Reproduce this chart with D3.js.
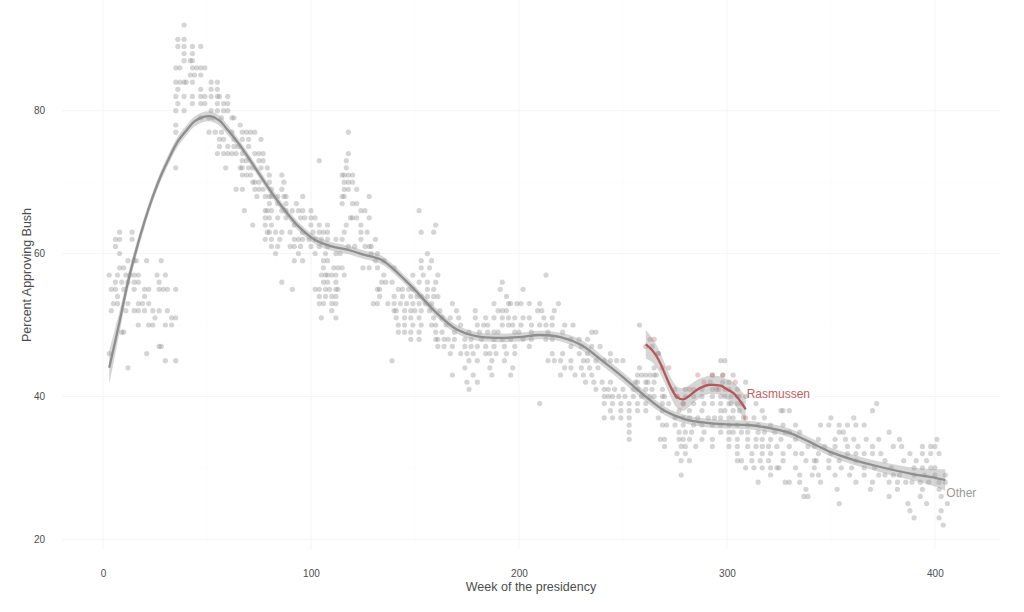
<!DOCTYPE html>
<html>
<head>
<meta charset="utf-8">
<script src="https://d3js.org/d3.v7.min.js"></script>
<style>
body { margin: 0; background: #fff; font-family: "Liberation Sans", Arial, Helvetica, sans-serif; }
.tick text { fill: #4d4d4d; font-size: 10px; }
</style>
</head>
<body>
<div id="chart"></div>
<script>

// poll results, one row per approval value: [percent, weeks that had a poll at that value...]
var otherPolls = [
  [92, 39],
  [90, 36, 39],
  [89, 36, 39, 43, 47],
  [88, 39, 43],
  [87, 39, 42, 43],
  [86, 35, 37, 43, 45, 47, 49],
  [85, 42, 44, 47],
  [84, 35, 37, 39, 40, 43, 52, 55],
  [83, 36, 47, 52, 55],
  [82, 35, 39, 43, 47, 49, 52, 55, 56, 60],
  [81, 36, 43, 47, 49, 55, 58, 60],
  [80, 35, 39, 52, 55, 58, 60],
  [79, 47, 51, 53, 57, 62, 63],
  [78, 35, 66],
  [77, 35, 51, 54, 57, 62, 67, 69, 71, 73, 118],
  [76, 56, 58, 63, 67, 70, 76],
  [75, 56, 60, 63, 65, 70],
  [74, 55, 58, 60, 62, 64, 67, 73, 75, 77, 118],
  [73, 67, 69, 75, 77, 104, 117],
  [72, 35, 59, 66, 67, 70, 72, 76, 79, 117],
  [71, 67, 69, 71, 80, 86, 115, 116, 118, 120],
  [70, 72, 73, 75, 80, 87, 116, 118, 120],
  [69, 64, 67, 73, 75, 77, 81, 86, 116, 118, 122],
  [68, 74, 78, 80, 81, 84, 87, 88, 96, 115, 116, 128],
  [67, 80, 84, 88, 93, 115, 120, 122],
  [66, 68, 78, 79, 81, 86, 88, 91, 94, 96, 100, 124, 126, 152],
  [65, 78, 80, 84, 88, 95, 97, 100, 102, 119, 120, 122, 128],
  [64, 72, 78, 81, 92, 100, 104, 108, 117, 124, 160],
  [63, 8, 14, 79, 80, 83, 86, 90, 96, 101, 104, 106, 108, 116, 124, 127, 153, 159],
  [62, 6, 8, 14, 78, 81, 85, 92, 94, 96, 99, 102, 105, 108, 112, 115, 124, 131],
  [61, 6, 81, 84, 90, 92, 95, 100, 104, 108, 118, 121, 126, 128, 129],
  [60, 8, 83, 94, 102, 107, 112, 114, 129, 132, 156],
  [59, 12, 15, 16, 21, 28, 92, 96, 106, 108, 131, 135, 153, 158],
  [58, 8, 10, 106, 111, 113, 115, 125, 128, 132, 140, 153, 157],
  [57, 3, 7, 11, 13, 15, 17, 26, 30, 105, 107, 108, 110, 112, 116, 135, 149, 154, 161, 213],
  [56, 6, 9, 12, 15, 17, 27, 86, 106, 108, 112, 134, 136, 139, 152, 156, 160, 192],
  [55, 4, 6, 10, 15, 20, 22, 27, 29, 31, 35, 91, 102, 104, 107, 109, 112, 113, 132, 133, 142, 144, 147, 149, 156, 159, 191, 202],
  [54, 7, 20, 104, 107, 110, 112, 133, 140, 144, 148, 151, 153, 156, 159, 161, 194],
  [53, 5, 7, 12, 17, 19, 22, 104, 106, 110, 112, 130, 132, 137, 140, 143, 146, 149, 152, 155, 158, 168, 188, 195, 196, 199, 201, 205, 210, 219],
  [52, 4, 11, 15, 17, 20, 24, 27, 31, 110, 140, 141, 145, 148, 150, 153, 157, 162, 170, 179, 190, 192, 194, 209, 211, 217],
  [51, 25, 33, 35, 105, 112, 141, 145, 148, 152, 159, 163, 167, 171, 179, 184, 188, 192, 195, 198, 202, 205, 212, 216],
  [50, 17, 22, 24, 30, 33, 142, 145, 149, 153, 158, 160, 165, 172, 180, 183, 185, 192, 195, 197, 201, 206, 210, 213, 216, 222, 226, 258],
  [49, 9, 10, 142, 145, 148, 152, 160, 163, 169, 176, 181, 185, 188, 190, 198, 200, 206, 214, 221, 235, 237],
  [48, 148, 152, 160, 161, 164, 166, 169, 174, 177, 182, 188, 192, 196, 202, 206, 213, 216, 225, 229, 233],
  [47, 27, 28, 161, 164, 168, 174, 177, 180, 184, 188, 193, 198, 205, 225, 230, 235, 239, 264],
  [46, 3, 21, 167, 172, 175, 178, 184, 186, 189, 194, 198, 216, 221, 229, 233, 244, 267],
  [45, 30, 35, 139, 176, 180, 187, 193, 214, 217, 220, 225, 231, 233, 237, 241, 244, 247, 250, 297, 299],
  [44, 12, 174, 186, 197, 222, 225, 230, 234, 238, 258, 265],
  [43, 168, 178, 187, 196, 220, 227, 231, 235, 257, 259, 261, 263, 265, 266, 293, 298, 303],
  [42, 175, 180, 232, 236, 240, 244, 256, 257, 261, 262, 265, 292, 298, 301, 309],
  [41, 176, 237, 241, 243, 246, 250, 255, 257, 261, 264, 269, 275, 280, 284, 288, 293, 295, 299, 305],
  [40, 241, 243, 245, 248, 251, 255, 259, 263, 265, 269, 270, 276, 280, 284, 288, 293, 297, 299, 302, 305, 309],
  [39, 210, 241, 245, 249, 253, 257, 261, 269, 272, 279, 284, 289, 293, 297, 301, 302, 305, 307, 314, 372],
  [38, 244, 249, 253, 257, 261, 269, 277, 282, 288, 297, 299, 303, 306, 317, 326, 327, 330, 370],
  [37, 241, 245, 249, 253, 267, 275, 279, 282, 286, 291, 294, 297, 301, 303, 308, 313, 318, 350, 361],
  [36, 253, 269, 271, 275, 279, 284, 288, 293, 297, 301, 305, 310, 315, 321, 327, 333, 345, 349, 354, 358, 362, 366],
  [35, 253, 277, 280, 283, 289, 297, 301, 303, 307, 310, 315, 318, 323, 328, 330, 335, 354, 356, 378],
  [34, 253, 268, 270, 277, 279, 282, 288, 293, 301, 305, 310, 314, 317, 321, 326, 333, 344, 352, 357, 361, 367, 373, 383, 401],
  [33, 270, 278, 280, 285, 293, 301, 305, 310, 314, 317, 320, 324, 330, 339, 342, 347, 352, 358, 363, 370, 380, 384, 394, 398, 400],
  [32, 276, 280, 305, 312, 317, 321, 327, 333, 336, 344, 350, 358, 362, 366, 370, 374, 388, 394, 398, 402],
  [31, 278, 282, 305, 307, 312, 316, 320, 327, 338, 342, 343, 349, 354, 362, 376, 385, 391, 396],
  [30, 309, 313, 317, 321, 324, 325, 333, 342, 349, 355, 360, 366, 371, 379, 390, 394, 398, 400],
  [29, 278, 321, 335, 341, 344, 352, 359, 366, 373, 376, 380, 383, 390, 395, 400, 405],
  [28, 315, 328, 330, 335, 345, 362, 370, 378, 382, 386, 389, 393, 397, 402, 405],
  [27, 338, 353, 369, 382, 394, 402],
  [26, 337, 339, 378, 393, 403],
  [25, 354, 387, 396, 406],
  [24, 388, 403],
  [23, 390, 402],
  [22, 404]
];

var rasWeeks = [261, 263, 265, 267, 269, 272, 276, 279, 282, 286, 289, 293, 296, 298, 301, 304, 306, 309];
var rasPcts  = [47,  48,  48,  46,  44,  44,  40,  39,  41,  43,  42,  43,  41,  43,  41,  42,  40,  37];

// loess fits
var otherFitWeeks = [3, 8, 12, 16, 20, 24, 28, 32, 36, 40,
  44, 48, 52, 56, 60, 65, 70, 75, 80, 86,
  94, 102, 110, 118, 126, 134, 142, 150, 160, 170,
  180, 190, 200, 210, 220, 230, 240, 250, 260, 270,
  280, 290, 300, 310, 320, 330, 340, 350, 360, 370,
  380, 390, 400, 405];
var otherFit = [44, 50.5, 56, 60.5, 64.5, 68, 71, 73.5, 75.7, 77.2,
  78.5, 79.1, 79.2, 78.6, 77.3, 75.5, 73.4, 71.2, 69, 66.6,
  63.8, 61.9, 61.0, 60.5, 59.8, 59.1, 57.2, 54.9, 51.8, 49.4,
  48.4, 48.2, 48.3, 48.6, 48.3, 47.2, 45.0, 42.7, 40.2, 38.0,
  36.8, 36.3, 36.1, 36.0, 35.6, 34.9, 33.6, 32.2, 31.2, 30.4,
  29.7, 29.1, 28.6, 28.3];
var otherSe = [2.4, 1.5, 1.1, 0.9, 0.8, 0.7, 0.7, 0.7, 0.7, 0.7,
  0.7, 0.7, 0.7, 0.7, 0.7, 0.6, 0.6, 0.6, 0.6, 0.6,
  0.6, 0.6, 0.6, 0.6, 0.6, 0.6, 0.6, 0.6, 0.6, 0.6,
  0.6, 0.6, 0.6, 0.6, 0.6, 0.7, 0.7, 0.7, 0.7, 0.6,
  0.6, 0.6, 0.6, 0.6, 0.6, 0.6, 0.6, 0.6, 0.7, 0.7,
  0.8, 0.9, 1.2, 1.5];

var rasFitWeeks = [261, 264, 267, 270, 273, 276, 279, 282, 285, 288, 291, 294, 297, 300, 303, 306, 309];
var rasFit = [47.3, 46.5, 45.2, 43.3, 41.3, 39.9, 39.6, 40.1, 40.8, 41.3, 41.6, 41.6, 41.5, 41.0, 40.5, 39.5, 38.2];
var rasSe  = [2.0, 1.7, 1.5, 1.4, 1.4, 1.5, 1.6, 1.5, 1.4, 1.3, 1.3, 1.3, 1.3, 1.4, 1.5, 1.6, 1.8];

var xTicks = [0, 100, 200, 300, 400];
var xMinor = [50, 150, 250, 350];
var yTicks = [20, 40, 60, 80];
var yMinor = [30, 50, 70, 90];

var width = 1024, height = 612;
var panel = {left: 62, right: 1000, top: 0, bottom: 550};

var svg = d3.select("#chart").append("svg")
    .attr("width", width)
    .attr("height", height);

var x = d3.scaleLinear()
  .domain([-19.7, 431.3])
  .range([panel.left, panel.right]);

var y = d3.scaleLinear()
  .domain([18.5, 95.5])
  .range([panel.bottom, panel.top]);

// grid, very faint as in theme_minimal
svg.append("g").selectAll("line.minorx")
  .data(xMinor).enter().append("line")
    .attr("x1", d => x(d)).attr("x2", d => x(d))
    .attr("y1", panel.top).attr("y2", panel.bottom)
    .attr("stroke", "#fafafa").attr("stroke-width", 0.5);
svg.append("g").selectAll("line.minory")
  .data(yMinor).enter().append("line")
    .attr("x1", panel.left).attr("x2", panel.right)
    .attr("y1", d => y(d)).attr("y2", d => y(d))
    .attr("stroke", "#fafafa").attr("stroke-width", 0.5);
svg.append("g").selectAll("line.majorx")
  .data(xTicks).enter().append("line")
    .attr("x1", d => x(d)).attr("x2", d => x(d))
    .attr("y1", panel.top).attr("y2", panel.bottom)
    .attr("stroke", "#f5f5f5").attr("stroke-width", 1);
svg.append("g").selectAll("line.majory")
  .data(yTicks).enter().append("line")
    .attr("x1", panel.left).attr("x2", panel.right)
    .attr("y1", d => y(d)).attr("y2", d => y(d))
    .attr("stroke", "#f5f5f5").attr("stroke-width", 1);

// axes (labels only)
var xAxis = svg.append("g")
  .attr("transform", "translate(0," + panel.bottom + ")")
  .call(d3.axisBottom(x).tickValues(xTicks).tickSize(0).tickPadding(20));
xAxis.select(".domain").remove();

var yAxis = svg.append("g")
  .attr("transform", "translate(" + panel.left + ",0)")
  .call(d3.axisLeft(y).tickValues(yTicks).tickSize(0).tickPadding(17));
yAxis.select(".domain").remove();

svg.append("text")
  .attr("x", (panel.left + panel.right) / 2)
  .attr("y", 591)
  .attr("text-anchor", "middle")
  .style("font-size", "12.5px")
  .style("fill", "#4d4d4d")
  .text("Week of the presidency");

svg.append("text")
  .attr("transform", "translate(31," + ((panel.top + panel.bottom) / 2) + ") rotate(-90)")
  .attr("text-anchor", "middle")
  .style("font-size", "12.5px")
  .style("fill", "#4d4d4d")
  .text("Percent Approving Bush");

// points
var polls = [];
otherPolls.forEach(function(row) {
  row.slice(1).forEach(function(w) { polls.push({week: w, pct: row[0]}); });
});
var rasPolls = rasWeeks.map(function(w, i) { return {week: w, pct: rasPcts[i]}; });

svg.append("g").selectAll("circle")
  .data(polls).enter().append("circle")
    .attr("cx", d => x(d.week))
    .attr("cy", d => y(d.pct))
    .attr("r", 2.6)
    .style("fill", "#8a8a8a")
    .style("opacity", 0.36);

svg.append("g").selectAll("circle")
  .data(rasPolls).enter().append("circle")
    .attr("cx", d => x(d.week))
    .attr("cy", d => y(d.pct))
    .attr("r", 2.6)
    .style("fill", "#c0504d")
    .style("opacity", 0.3);

// smooths with confidence bands
function smooth(weeks, fit, se, color) {
  var pts = weeks.map(function(w, i) { return {week: w, fit: fit[i], se: se[i]}; });
  svg.append("path")
    .datum(pts)
    .attr("d", d3.area()
      .curve(d3.curveCatmullRom)
      .x(d => x(d.week))
      .y0(d => y(d.fit - d.se))
      .y1(d => y(d.fit + d.se)))
    .style("fill", "#999")
    .style("opacity", 0.4);
  svg.append("path")
    .datum(pts)
    .attr("d", d3.line()
      .curve(d3.curveCatmullRom)
      .x(d => x(d.week))
      .y(d => y(d.fit)))
    .style("fill", "none")
    .style("stroke", color)
    .style("stroke-width", 2.3);
}

smooth(otherFitWeeks, otherFit, otherSe, "#8e8e8e");
smooth(rasFitWeeks, rasFit, rasSe, "#b5565a");

// direct labels
svg.append("text")
  .attr("x", x(rasFitWeeks[rasFitWeeks.length - 1]) + 1)
  .attr("y", y(40.4))
  .attr("dy", "0.35em")
  .style("font-size", "12px")
  .style("fill", "#c0605f")
  .text("Rasmussen");

svg.append("text")
  .attr("x", x(otherFitWeeks[otherFitWeeks.length - 1]) + 1)
  .attr("y", y(26.5))
  .attr("dy", "0.35em")
  .style("font-size", "12px")
  .style("fill", "#9a9a9a")
  .text("Other");

</script>
</body>
</html>
